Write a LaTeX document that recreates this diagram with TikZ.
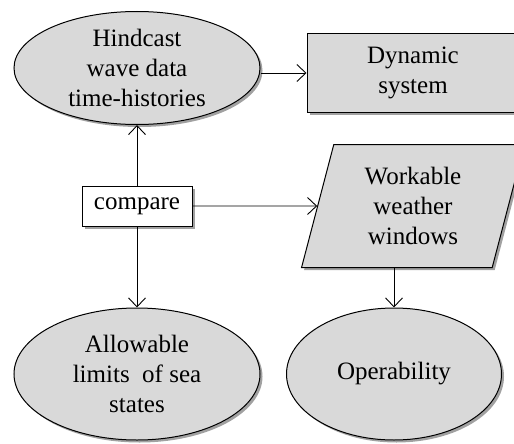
\documentclass[tikz,border=0pt]{standalone}
\usepackage{fontspec}
\setmainfont{Liberation Serif}
\usetikzlibrary{arrows.meta, positioning, calc, shapes.geometric, shadows}
\definecolor{ShapeGrey}{HTML}{D9D9D9}
\definecolor{ShadowGrey}{HTML}{6E6E6E}

\begin{document}
\begin{tikzpicture}[
    x=1pt, y=-1pt,
    shadowed/.style={drop shadow={shadow xshift=2.5pt, shadow yshift=-2.5pt,
        fill=ShadowGrey, opacity=0.65}},
    ellnode/.style={ellipse, draw=black, fill=ShapeGrey, line width=1pt,
        shadowed, align=center, inner sep=0pt},
    boxnode/.style={rectangle, draw=black, fill=ShapeGrey, line width=1pt,
        shadowed, align=center},
    datanode/.style={trapezium, trapezium left angle=76, trapezium right angle=104,
        trapezium stretches=true, draw=black, fill=ShapeGrey, line width=1pt,
        shadowed, align=center},
    flow/.style={-{Straight Barb[length=9pt, width=17pt]}, line width=0.9pt},
    every node/.style={font=\fontsize{25}{30}\selectfont}
]
\useasboundingbox (0,0) rectangle (514,444);

% =============================================
% Top row
% =============================================
\node[ellnode, minimum width=246pt, minimum height=113pt] (hind) at (137,68)
    {Hindcast\\wave data\\time-histories};
\node[boxnode, minimum width=212pt, minimum height=78pt] (dyn) at (413,73)
    {Dynamic\\system};

% =============================================
% Middle row
% =============================================
\node[rectangle, draw=black, fill=white, line width=1pt, shadowed,
    minimum width=110pt, minimum height=40pt, inner sep=2pt] (cmp) at (137,206) {compare};
\node[datanode, minimum width=223pt, minimum height=123pt] (work) at (413,206)
    {Workable\\weather\\windows};

% =============================================
% Bottom row
% =============================================
\node[ellnode, minimum width=246pt, minimum height=132pt] (allow) at (137,374)
    {Allowable\\limits~ of sea\\states};
\node[ellnode, minimum width=215pt, minimum height=132pt] (oper) at (394,374)
    {Operability};

% connectors
\draw[flow] (hind.east |- dyn.west) -- (dyn.west);
\draw[flow] (cmp.north) -- (hind.south);
\draw[flow] (cmp.east) -- (work.west);
\draw[flow] (cmp.south) -- (allow.north);
\draw[flow] (oper.north |- work.south) -- (oper.north);

\end{tikzpicture}
\end{document}
